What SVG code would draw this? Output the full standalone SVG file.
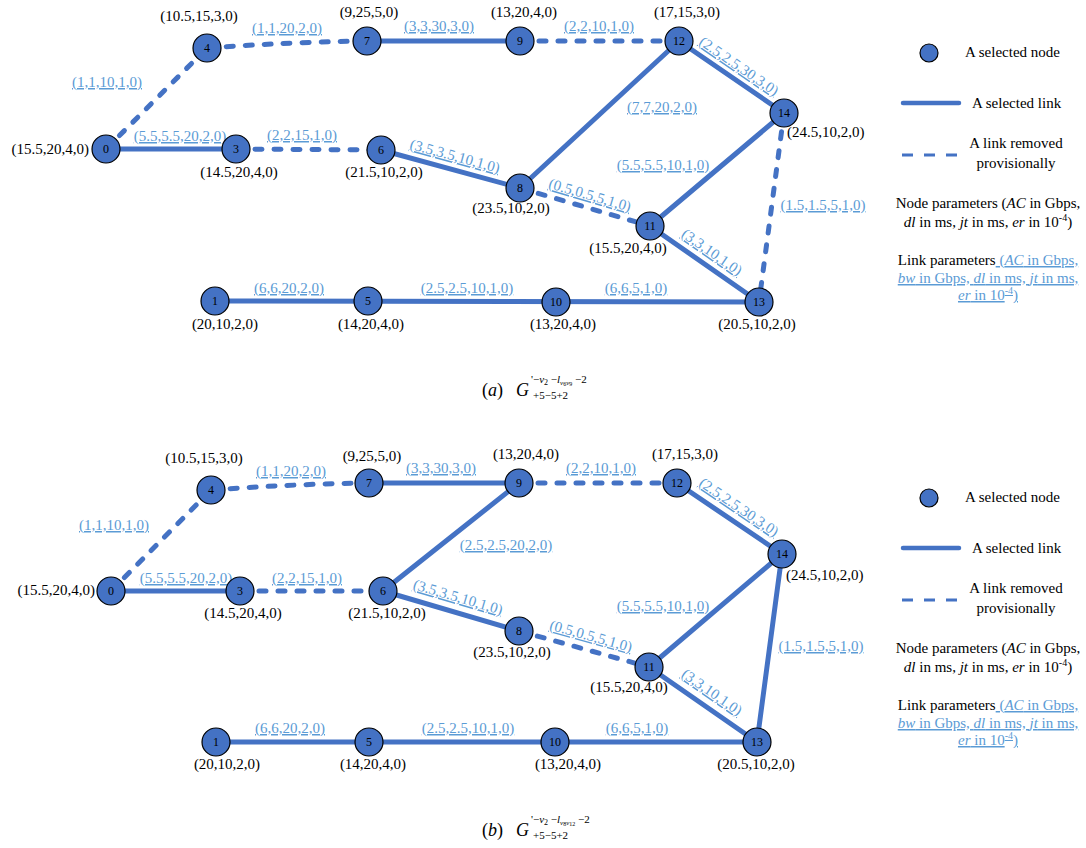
<svg xmlns="http://www.w3.org/2000/svg" width="1086" height="848" viewBox="0 0 1086 848" font-family="'Liberation Serif', 'Times New Roman', serif">
  <style>
    text { font-family: "Liberation Serif", "Times New Roman", serif; fill: #000; }
    .lk { stroke: #4472C4; stroke-width: 5; fill: none; stroke-linecap: round; }
    .rm { stroke-dasharray: 7 12; }
    .nd circle { fill: #4472C4; stroke: #000; stroke-width: 1.2; }
    .nd .id { font-size: 12px; text-anchor: middle; }
    .np { font-size: 15px; }
    .mid { text-anchor: middle; }
    .end { text-anchor: end; }
    .ll { font-size: 15px; fill: #5B9BD5; text-decoration: underline; text-anchor: middle; }
    .lg { font-size: 15px; }
    .blue { fill: #5B9BD5; text-decoration: underline; }
    .it { font-style: italic; }
    .cap { font-size: 18px; }
    .cs { font-size: 11px; }
  </style>

  <!-- ===================== Panel (a) ===================== -->
  <g id="a-links">
    <line class="lk rm" x1="106" y1="149" x2="207" y2="48"/>
    <line class="lk" x1="106" y1="149" x2="236" y2="149"/>
    <path class="lk rm" d="M207,48 Q290,42 367,41"/>
    <line class="lk rm" x1="236" y1="149" x2="381" y2="150"/>
    <line class="lk" x1="367" y1="41" x2="520" y2="41"/>
    <line class="lk rm" x1="520" y1="41" x2="679" y2="41"/>
    <line class="lk" x1="679" y1="41" x2="784" y2="113"/>
    <line class="lk" x1="679" y1="41" x2="520" y2="188"/>
    <line class="lk" x1="381" y1="150" x2="520" y2="188"/>
    <line class="lk rm" x1="520" y1="188" x2="650" y2="226"/>
    <line class="lk" x1="650" y1="226" x2="784" y2="113"/>
    <line class="lk" x1="650" y1="226" x2="759" y2="302"/>
    <line class="lk rm" x1="784" y1="113" x2="759" y2="302"/>
    <line class="lk" x1="215" y1="301" x2="759" y2="302"/>

    <text class="ll" x="107" y="87">(1,1,10,1,0)</text>
    <text class="ll" x="180" y="141">(5.5,5.5,20,2,0)</text>
    <text class="ll" x="302" y="140">(2,2,15,1,0)</text>
    <text class="ll" x="287" y="33">(1,1,20,2,0)</text>
    <text class="ll" x="439" y="31">(3,3,30,3,0)</text>
    <text class="ll" x="599" y="31">(2,2,10,1,0)</text>
    <text class="ll" x="662" y="112">(7,7,20,2,0)</text>
    <text class="ll" x="663" y="170">(5.5,5.5,10,1,0)</text>
    <text class="ll" x="823" y="210">(1.5,1.5,5,1,0)</text>
    <text class="ll" x="289" y="293">(6,6,20,2,0)</text>
    <text class="ll" x="467" y="293">(2.5,2.5,10,1,0)</text>
    <text class="ll" x="636" y="293">(6,6,5,1,0)</text>
    <text class="ll" transform="translate(739,66) rotate(34.4)" x="0" y="5">(2.5,2.5,30,3,0)</text>
    <text class="ll" transform="translate(455,156) rotate(15.3)" x="0" y="5">(3.5,3.5,10,1,0)</text>
    <text class="ll" transform="translate(590,195) rotate(16.3)" x="0" y="5">(0.5,0.5,5,1,0)</text>
    <text class="ll" transform="translate(712,252) rotate(34.9)" x="0" y="5">(3,3,10,1,0)</text>
  </g>

  <g id="a-n0" class="nd"><circle cx="106" cy="149" r="14"/><text class="id" x="106" y="153">0</text><text class="np end" x="89" y="154">(15.5,20,4,0)</text></g>
  <g id="a-n1" class="nd"><circle cx="215" cy="301" r="14"/><text class="id" x="215" y="305">1</text><text class="np mid" x="225" y="329">(20,10,2,0)</text></g>
  <g id="a-n3" class="nd"><circle cx="236" cy="149" r="14"/><text class="id" x="236" y="153">3</text><text class="np mid" x="239" y="177">(14.5,20,4,0)</text></g>
  <g id="a-n4" class="nd"><circle cx="207" cy="48" r="14"/><text class="id" x="207" y="52">4</text><text class="np mid" x="199" y="21">(10.5,15,3,0)</text></g>
  <g id="a-n5" class="nd"><circle cx="368" cy="301" r="14"/><text class="id" x="368" y="305">5</text><text class="np mid" x="371" y="329">(14,20,4,0)</text></g>
  <g id="a-n6" class="nd"><circle cx="381" cy="150" r="14"/><text class="id" x="381" y="154">6</text><text class="np mid" x="384" y="177">(21.5,10,2,0)</text></g>
  <g id="a-n7" class="nd"><circle cx="367" cy="41" r="14"/><text class="id" x="367" y="45">7</text><text class="np mid" x="369" y="17">(9,25,5,0)</text></g>
  <g id="a-n8" class="nd"><circle cx="520" cy="188" r="14"/><text class="id" x="520" y="192">8</text><text class="np mid" x="511" y="213">(23.5,10,2,0)</text></g>
  <g id="a-n9" class="nd"><circle cx="520" cy="41" r="14"/><text class="id" x="520" y="45">9</text><text class="np mid" x="524" y="17">(13,20,4,0)</text></g>
  <g id="a-n10" class="nd"><circle cx="556" cy="302" r="14"/><text class="id" x="556" y="306">10</text><text class="np mid" x="563" y="329">(13,20,4,0)</text></g>
  <g id="a-n11" class="nd"><circle cx="650" cy="226" r="14"/><text class="id" x="650" y="230">11</text><text class="np mid" x="628" y="253">(15.5,20,4,0)</text></g>
  <g id="a-n12" class="nd"><circle cx="679" cy="41" r="14"/><text class="id" x="679" y="45">12</text><text class="np mid" x="687" y="17">(17,15,3,0)</text></g>
  <g id="a-n13" class="nd"><circle cx="759" cy="302" r="14"/><text class="id" x="759" y="306">13</text><text class="np mid" x="757" y="329">(20.5,10,2,0)</text></g>
  <g id="a-n14" class="nd"><circle cx="784" cy="113" r="14"/><text class="id" x="784" y="117">14</text><text class="np" x="787" y="137">(24.5,10,2,0)</text></g>

  <g id="a-legend">
    <circle cx="929" cy="53" r="9" fill="#4472C4" stroke="#000" stroke-width="1.2"/>
    <text class="lg" x="965" y="57">A selected node</text>
    <line x1="903" y1="103" x2="959" y2="103" stroke="#4472C4" stroke-width="4.5" stroke-linecap="round"/>
    <text class="lg" x="972" y="108">A selected link</text>
    <line x1="902" y1="155" x2="957" y2="155" stroke="#4472C4" stroke-width="3" stroke-dasharray="11 11"/>
    <text class="lg mid" x="1016" y="148">A link removed</text>
    <text class="lg mid" x="1016" y="168">provisionally</text>
    <text class="lg mid" x="988" y="208">Node parameters (<tspan class="it">AC</tspan> in Gbps,</text>
    <text class="lg mid" x="988" y="227"><tspan class="it">dl</tspan> in ms, <tspan class="it">jt</tspan> in ms, <tspan class="it">er</tspan> in 10<tspan font-size="10" dy="-6">-4</tspan><tspan dy="6">)</tspan></text>
    <text class="lg mid" x="988" y="265">Link parameters<tspan class="blue"> (<tspan class="it">AC</tspan> in Gbps,</tspan></text>
    <text class="lg mid blue" x="988" y="283"><tspan class="it">bw</tspan> in Gbps, <tspan class="it">dl</tspan> in ms, <tspan class="it">jt</tspan> in ms,</text>
    <text class="lg mid blue" x="988" y="300"><tspan class="it">er</tspan> in 10<tspan font-size="10" dy="-6">-4</tspan><tspan dy="6">)</tspan></text>
  </g>

  <!-- caption: G with superscript and subscript stacked -->
  <g id="a-caption">
    <text class="cap" x="482" y="396">(<tspan class="it">a</tspan>)</text>
    <text class="cap it" x="516" y="396">G</text>
    <text class="cs" x="531" y="383">'−<tspan class="it">v</tspan><tspan font-size="8" dy="2">2</tspan><tspan dy="-2"> −</tspan><tspan class="it">l</tspan><tspan class="it" font-size="7" dy="2">v</tspan><tspan font-size="6" dy="1">6</tspan><tspan class="it" font-size="7" dy="-1">v</tspan><tspan font-size="6" dy="1">9</tspan><tspan dy="-3"> −2</tspan></text>
    <text class="cs" x="533" y="399" font-size="11">+5−5+2</text>
  </g>

  <!-- ===================== Panel (b) ===================== -->
  <g id="b-links">
    <line class="lk rm" x1="111" y1="591" x2="211" y2="490"/>
    <line class="lk" x1="111" y1="591" x2="240" y2="591"/>
    <path class="lk rm" d="M211,490 Q292,484 369,483"/>
    <line class="lk rm" x1="240" y1="591" x2="383" y2="591"/>
    <line class="lk" x1="369" y1="483" x2="519" y2="483"/>
    <line class="lk rm" x1="519" y1="483" x2="677" y2="483"/>
    <line class="lk" x1="677" y1="483" x2="782" y2="554"/>
    <line class="lk" x1="383" y1="591" x2="519" y2="483"/>
    <line class="lk" x1="383" y1="591" x2="519" y2="631"/>
    <line class="lk rm" x1="519" y1="631" x2="649" y2="667"/>
    <line class="lk" x1="649" y1="667" x2="782" y2="554"/>
    <line class="lk" x1="649" y1="667" x2="757" y2="742"/>
    <line class="lk" x1="782" y1="554" x2="757" y2="742"/>
    <line class="lk" x1="216" y1="742" x2="757" y2="742"/>

    <text class="ll" x="114" y="530">(1,1,10,1,0)</text>
    <text class="ll" x="186" y="583">(5.5,5.5,20,2,0)</text>
    <text class="ll" x="307" y="583">(2,2,15,1,0)</text>
    <text class="ll" x="291" y="476">(1,1,20,2,0)</text>
    <text class="ll" x="441" y="473">(3,3,30,3,0)</text>
    <text class="ll" x="601" y="473">(2,2,10,1,0)</text>
    <text class="ll" x="506" y="550">(2.5,2.5,20,2,0)</text>
    <text class="ll" x="663" y="611">(5.5,5.5,10,1,0)</text>
    <text class="ll" x="821" y="651">(1.5,1.5,5,1,0)</text>
    <text class="ll" x="290" y="733">(6,6,20,2,0)</text>
    <text class="ll" x="468" y="733">(2.5,2.5,10,1,0)</text>
    <text class="ll" x="637" y="733">(6,6,5,1,0)</text>
    <text class="ll" transform="translate(739,507) rotate(34.1)" x="0" y="5">(2.5,2.5,30,3,0)</text>
    <text class="ll" transform="translate(458,597) rotate(16.4)" x="0" y="5">(3.5,3.5,10,1,0)</text>
    <text class="ll" transform="translate(591,636) rotate(15.5)" x="0" y="5">(0.5,0.5,5,1,0)</text>
    <text class="ll" transform="translate(712,692) rotate(34.8)" x="0" y="5">(3,3,10,1,0)</text>
  </g>

  <g id="b-n0" class="nd"><circle cx="111" cy="591" r="14"/><text class="id" x="111" y="595">0</text><text class="np end" x="95" y="595">(15.5,20,4,0)</text></g>
  <g id="b-n1" class="nd"><circle cx="216" cy="742" r="14"/><text class="id" x="216" y="746">1</text><text class="np mid" x="227" y="769">(20,10,2,0)</text></g>
  <g id="b-n3" class="nd"><circle cx="240" cy="591" r="14"/><text class="id" x="240" y="595">3</text><text class="np mid" x="243" y="618">(14.5,20,4,0)</text></g>
  <g id="b-n4" class="nd"><circle cx="211" cy="490" r="14"/><text class="id" x="211" y="494">4</text><text class="np mid" x="204" y="463">(10.5,15,3,0)</text></g>
  <g id="b-n5" class="nd"><circle cx="369" cy="742" r="14"/><text class="id" x="369" y="746">5</text><text class="np mid" x="373" y="769">(14,20,4,0)</text></g>
  <g id="b-n6" class="nd"><circle cx="383" cy="591" r="14"/><text class="id" x="383" y="595">6</text><text class="np mid" x="387" y="618">(21.5,10,2,0)</text></g>
  <g id="b-n7" class="nd"><circle cx="369" cy="483" r="14"/><text class="id" x="369" y="487">7</text><text class="np mid" x="372" y="461">(9,25,5,0)</text></g>
  <g id="b-n8" class="nd"><circle cx="519" cy="631" r="14"/><text class="id" x="519" y="635">8</text><text class="np mid" x="512" y="657">(23.5,10,2,0)</text></g>
  <g id="b-n9" class="nd"><circle cx="519" cy="483" r="14"/><text class="id" x="519" y="487">9</text><text class="np mid" x="526" y="459">(13,20,4,0)</text></g>
  <g id="b-n10" class="nd"><circle cx="555" cy="742" r="14"/><text class="id" x="555" y="746">10</text><text class="np mid" x="568" y="769">(13,20,4,0)</text></g>
  <g id="b-n11" class="nd"><circle cx="649" cy="667" r="14"/><text class="id" x="649" y="671">11</text><text class="np mid" x="629" y="692">(15.5,20,4,0)</text></g>
  <g id="b-n12" class="nd"><circle cx="677" cy="483" r="14"/><text class="id" x="677" y="487">12</text><text class="np mid" x="685" y="459">(17,15,3,0)</text></g>
  <g id="b-n13" class="nd"><circle cx="757" cy="742" r="14"/><text class="id" x="757" y="746">13</text><text class="np mid" x="756" y="769">(20.5,10,2,0)</text></g>
  <g id="b-n14" class="nd"><circle cx="782" cy="554" r="14"/><text class="id" x="782" y="558">14</text><text class="np" x="786" y="580">(24.5,10,2,0)</text></g>

  <g id="b-legend" transform="translate(0,445)">
    <circle cx="929" cy="53" r="9" fill="#4472C4" stroke="#000" stroke-width="1.2"/>
    <text class="lg" x="965" y="57">A selected node</text>
    <line x1="903" y1="103" x2="959" y2="103" stroke="#4472C4" stroke-width="4.5" stroke-linecap="round"/>
    <text class="lg" x="972" y="108">A selected link</text>
    <line x1="902" y1="155" x2="957" y2="155" stroke="#4472C4" stroke-width="3" stroke-dasharray="11 11"/>
    <text class="lg mid" x="1016" y="148">A link removed</text>
    <text class="lg mid" x="1016" y="168">provisionally</text>
    <text class="lg mid" x="988" y="208">Node parameters (<tspan class="it">AC</tspan> in Gbps,</text>
    <text class="lg mid" x="988" y="227"><tspan class="it">dl</tspan> in ms, <tspan class="it">jt</tspan> in ms, <tspan class="it">er</tspan> in 10<tspan font-size="10" dy="-6">-4</tspan><tspan dy="6">)</tspan></text>
    <text class="lg mid" x="988" y="265">Link parameters<tspan class="blue"> (<tspan class="it">AC</tspan> in Gbps,</tspan></text>
    <text class="lg mid blue" x="988" y="283"><tspan class="it">bw</tspan> in Gbps, <tspan class="it">dl</tspan> in ms, <tspan class="it">jt</tspan> in ms,</text>
    <text class="lg mid blue" x="988" y="300"><tspan class="it">er</tspan> in 10<tspan font-size="10" dy="-6">-4</tspan><tspan dy="6">)</tspan></text>
  </g>

  <g id="b-caption">
    <text class="cap" x="482" y="836">(<tspan class="it">b</tspan>)</text>
    <text class="cap it" x="516" y="836">G</text>
    <text class="cs" x="531" y="823">'−<tspan class="it">v</tspan><tspan font-size="8" dy="2">2</tspan><tspan dy="-2"> −</tspan><tspan class="it">l</tspan><tspan class="it" font-size="7" dy="2">v</tspan><tspan font-size="6" dy="1">8</tspan><tspan class="it" font-size="7" dy="-1">v</tspan><tspan font-size="6" dy="1">12</tspan><tspan dy="-3"> −2</tspan></text>
    <text class="cs" x="533" y="839" font-size="11">+5−5+2</text>
  </g>
</svg>
